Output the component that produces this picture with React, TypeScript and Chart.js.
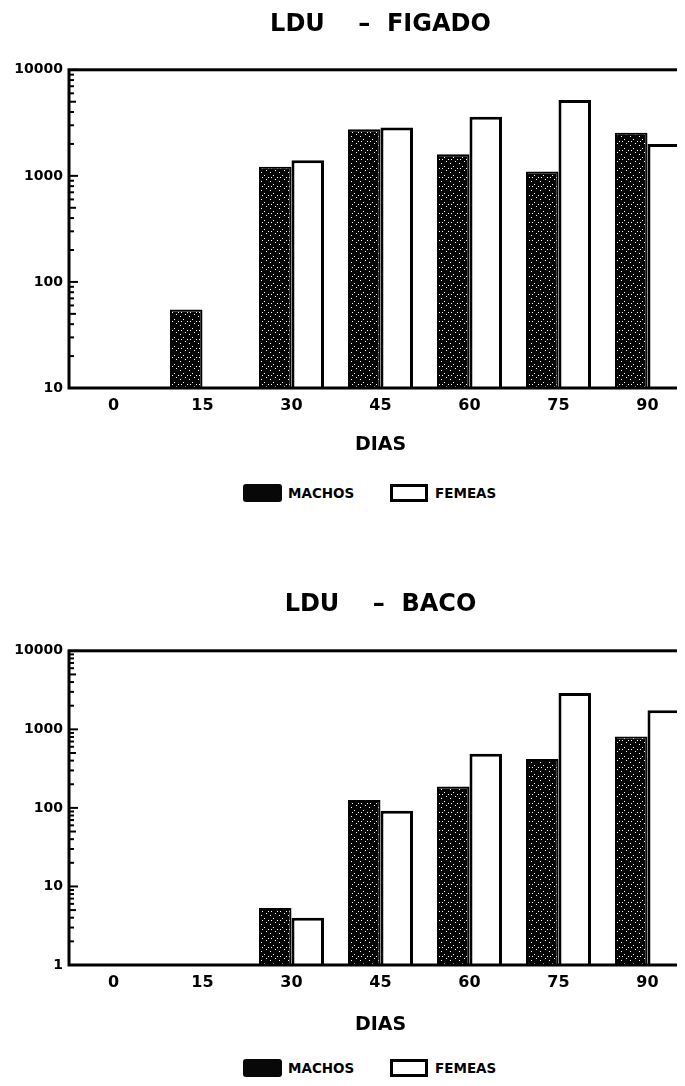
import React, { useEffect, useRef } from "react";
import { Chart, registerables } from "chart.js";

Chart.register(...registerables);

// ---- data ----
const days = ["0", "15", "30", "45", "60", "75", "90"];
const seriesNames = ["MACHOS", "FEMEAS"];

const figadoTitle = "LDU    –  FIGADO";
const figadoMachos = [null, 55, 1220, 2750, 1600, 1100, 2550];
const figadoFemeas = [null, null, 1400, 2850, 3600, 5200, 2000];
const figadoTicks = [10, 100, 1000, 10000];

const bacoTitle = "LDU    –  BACO";
const bacoMachos = [null, null, 5.3, 126, 187, 420, 810];
const bacoFemeas = [null, null, 4.0, 92, 490, 2900, 1750];
const bacoTicks = [1, 10, 100, 1000, 10000];

const minorSteps = [2, 3, 4, 5, 6, 7, 8, 9];
const axisTitle = "DIAS";
const FONT = "'DejaVu Sans', sans-serif";

function makeStipple(): CanvasPattern | string {
  const c = document.createElement("canvas");
  c.width = 9;
  c.height = 9;
  const g = c.getContext("2d");
  if (!g) return "#000";
  g.fillStyle = "#050505";
  g.fillRect(0, 0, 9, 9);
  g.fillStyle = "#ffffff";
  g.fillRect(1, 2, 1, 1);
  g.fillRect(6, 0, 1, 1);
  g.fillRect(4, 5, 1, 1);
  g.fillRect(8, 7, 1, 1);
  g.fillRect(2, 7, 1, 1);
  const p = g.createPattern(c, "repeat");
  return p || "#000";
}

const isMajor = (v: number, majors: number[]) =>
  majors.some((m) => Math.abs(m - v) / m < 1e-6);

const framePlugin = {
  id: "frame",
  afterDatasetsDraw(chart: any, _args: any, opts: any) {
    const { ctx, chartArea: a } = chart;
    const y = chart.scales.y;
    const majors: number[] = opts.majors || [];
    ctx.save();
    ctx.strokeStyle = "#000";
    ctx.lineWidth = 3;
    ctx.strokeRect(a.left, a.top, a.right - a.left, a.bottom - a.top);
    ctx.lineWidth = 2;
    const tick = (v: number, len: number) => {
      const py = y.getPixelForValue(v);
      ctx.beginPath();
      ctx.moveTo(a.left, py);
      ctx.lineTo(a.left + len, py);
      ctx.stroke();
    };
    majors.forEach((m, i) => {
      tick(m, 9);
      if (i < majors.length - 1) {
        minorSteps.forEach((k) => tick(m * k, k === 5 ? 7 : 5));
      }
    });
    ctx.restore();
  },
};

type Props = {
  title: string;
  machos: (number | null)[];
  femeas: (number | null)[];
  majors: number[];
  height: number;
  titlePad: { top: number; bottom: number };
  xTitlePadTop: number;
  bottomPad: number;
};

function LogBarChart(p: Props) {
  const ref = useRef<HTMLCanvasElement | null>(null);
  useEffect(() => {
    if (!ref.current) return;
    const stipple = makeStipple();
    const chart = new Chart(ref.current, {
      type: "bar",
      data: {
        labels: days,
        datasets: [
          {
            label: seriesNames[0],
            data: p.machos as any,
            backgroundColor: stipple as any,
            borderColor: "#000",
            borderWidth: 2,
            barPercentage: 1,
            categoryPercentage: 0.73,
          },
          {
            label: seriesNames[1],
            data: p.femeas as any,
            backgroundColor: "#fff",
            borderColor: "#000",
            borderWidth: 3,
            barPercentage: 1,
            categoryPercentage: 0.73,
          },
        ],
      },
      options: {
        animation: false,
        responsive: false,
        layout: { padding: { left: 0, right: 16, top: 0, bottom: p.bottomPad } },
        plugins: {
          legend: { display: false },
          tooltip: { enabled: false },
          title: {
            display: true,
            fullSize: false,
            text: p.title,
            color: "#000",
            font: { family: FONT, weight: "bold", size: 24 },
            padding: p.titlePad,
          },
          frame: { majors: p.majors },
        } as any,
        scales: {
          x: {
            type: "category",
            grid: { display: false, drawTicks: false },
            border: { display: false },
            ticks: {
              color: "#000",
              padding: 8,
              font: { family: FONT, weight: "bold", size: 16 },
            },
            title: {
              display: true,
              text: axisTitle,
              color: "#000",
              font: { family: FONT, weight: "bold", size: 19 },
              padding: { top: p.xTitlePadTop, bottom: 4 },
            },
          },
          y: {
            type: "logarithmic",
            min: p.majors[0],
            max: p.majors[p.majors.length - 1],
            grid: { display: false, drawTicks: false },
            border: { display: false },
            afterFit: (s: any) => {
              s.width = 61;
            },
            ticks: {
              autoSkip: false,
              color: "#000",
              padding: 6,
              font: { family: FONT, weight: "bold", size: 14 },
              callback: (v: any) =>
                isMajor(Number(v), p.majors) ? String(Math.round(Number(v))) : null,
            },
          },
        },
      },
      plugins: [framePlugin as any],
    });
    return () => chart.destroy();
  }, []);
  return (
    <canvas
      ref={ref}
      width={700}
      height={p.height}
      style={{ display: "block", width: 700, height: p.height }}
    />
  );
}

function Legend({ top }: { top: number }) {
  const txt: React.CSSProperties = {
    position: "absolute",
    top: top,
    height: 18,
    lineHeight: "18px",
    fontFamily: FONT,
    fontWeight: "bold",
    fontSize: 13.5,
    color: "#000",
    whiteSpace: "nowrap",
  };
  return (
    <>
      <div
        style={{
          position: "absolute",
          left: 235,
          top: top,
          width: 39,
          height: 18,
          background: "#080808",
          borderRadius: 3,
        }}
      />
      <div style={{ ...txt, left: 280 }}>{seriesNames[0]}</div>
      <div
        style={{
          position: "absolute",
          left: 382,
          top: top,
          width: 38,
          height: 18,
          boxSizing: "border-box",
          border: "3px solid #000",
          background: "#fff",
        }}
      />
      <div style={{ ...txt, left: 427 }}>{seriesNames[1]}</div>
    </>
  );
}

export default function App() {
  return (
    <div
      style={{
        position: "relative",
        width: 677,
        height: 1070,
        overflow: "hidden",
        background: "#fff",
      }}
    >
      <div style={{ position: "absolute", left: 0, top: 0 }}>
        <LogBarChart
          title={figadoTitle}
          machos={figadoMachos}
          femeas={figadoFemeas}
          majors={figadoTicks}
          height={460}
          titlePad={{ top: 2, bottom: 31 }}
          xTitlePadTop={10}
          bottomPad={8}
        />
      </div>
      <Legend top={476} />
      <div style={{ position: "absolute", left: 0, top: 572 }}>
        <LogBarChart
          title={bacoTitle}
          machos={bacoMachos}
          femeas={bacoFemeas}
          majors={bacoTicks}
          height={464}
          titlePad={{ top: 10, bottom: 32 }}
          xTitlePadTop={13}
          bottomPad={4}
        />
      </div>
      <Legend top={1051} />
    </div>
  );
}
